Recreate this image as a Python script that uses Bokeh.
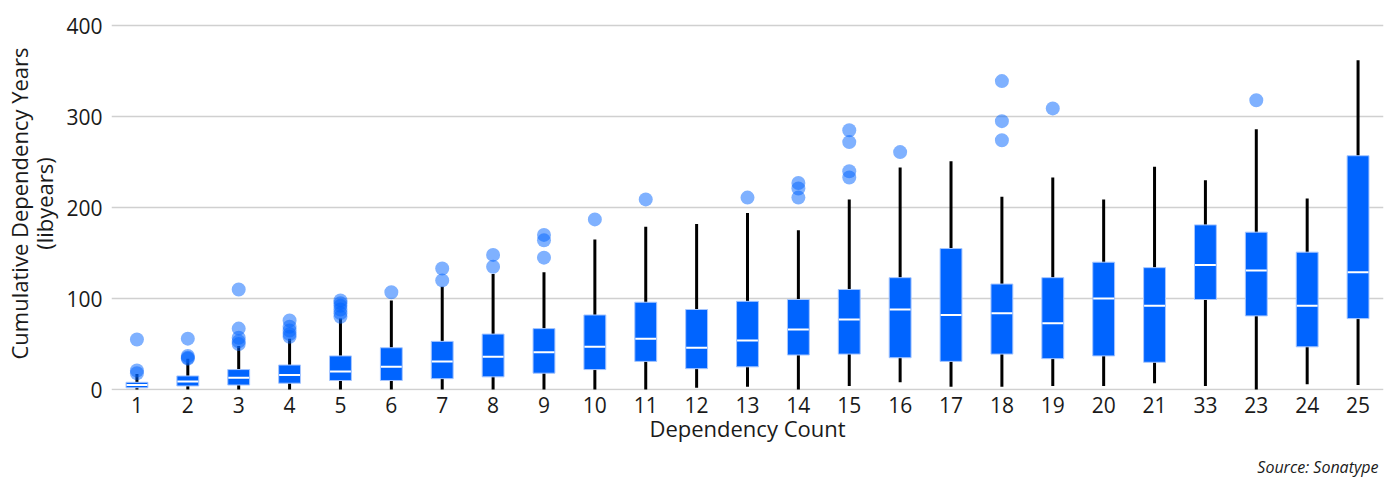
from bokeh.plotting import figure
from bokeh.models import Range1d, FactorRange, FixedTicker, Title, ColumnDataSource
from bokeh.transform import dodge
from bokeh.embed import file_html
from bokeh.resources import INLINE

# ---- data ----
categories = ["1", "2", "3", "4", "5", "6", "7", "8", "9", "10", "11", "12", "13",
              "14", "15", "16", "17", "18", "19", "20", "21", "33", "23", "24", "25"]
whisker_low = [0, 0, 0, 0, 0, 0, 0, 0, 0, 0, 0, 2, 3, 0, 4, 8, 3, 3, 4, 4, 7, 4, 0, 6, 5]
q1 = [2, 4, 5, 7, 10, 10, 12, 14, 18, 22, 31, 23, 25, 38, 39, 35, 31, 39, 34, 37, 30, 99, 81, 47, 78]
median = [5, 9, 13, 16, 20, 25, 31, 36, 41, 47, 56, 46, 54, 66, 77, 88, 82, 84, 73, 100, 92, 137, 131, 92, 129]
q3 = [8, 15, 22, 27, 37, 46, 53, 61, 67, 82, 96, 88, 97, 99, 110, 123, 155, 116, 123, 140, 134, 181, 173, 151, 257]
whisker_high = [17, 34, 48, 56, 78, 98, 113, 127, 129, 165, 179, 182, 194, 175, 209, 244, 251, 212, 233, 209, 245, 230, 286, 210, 362]

outlier_category = ["1", "1", "1",
                    "2", "2", "2", "2",
                    "3", "3", "3", "3", "3",
                    "4", "4", "4", "4", "4",
                    "5", "5", "5", "5", "5", "5",
                    "6", "7", "7", "8", "8", "9", "9", "9",
                    "10", "11", "13", "14", "14", "14",
                    "15", "15", "15", "15", "16",
                    "18", "18", "18", "19", "23"]
outlier_value = [55, 21, 18,
                 56, 37, 35, 34,
                 110, 67, 57, 53, 50,
                 76, 69, 65, 61, 58,
                 98, 95, 92, 88, 84, 80,
                 107, 133, 120, 148, 135, 170, 164, 145,
                 187, 209, 211, 227, 221, 211,
                 285, 272, 240, 233, 261,
                 339, 295, 274, 309, 318]

y_ticks = [0, 100, 200, 300, 400]

# ---- build ----
box_src = ColumnDataSource(dict(cat=categories, lo=whisker_low, q1=q1, med=median,
                                q3=q3, hi=whisker_high))
out_src = ColumnDataSource(dict(cat=outlier_category, y=outlier_value))

FONT = "Open Sans"
TXT = "#1a1a1a"

p = figure(width=1386, height=486, output_backend="svg", toolbar_location=None,
           x_range=FactorRange(factors=categories, range_padding=0),
           y_range=Range1d(-1, 410),
           min_border_top=16, min_border_right=3, min_border_left=107, min_border_bottom=96)

p.outline_line_color = None
p.background_fill_color = "white"
p.xgrid.grid_line_color = None
p.ygrid.grid_line_color = "#d0d0d0"
p.ygrid.grid_line_width = 1.5
p.ygrid.ticker = FixedTicker(ticks=y_ticks)
p.yaxis.ticker = FixedTicker(ticks=y_ticks)

for ax in (p.xaxis[0], p.yaxis[0]):
    ax.axis_line_color = None
    ax.major_tick_line_color = None
    ax.minor_tick_line_color = None
    ax.major_label_text_font = FONT
    ax.major_label_text_font_size = "21px"
    ax.major_label_text_color = TXT
    ax.axis_label_text_font = FONT
    ax.axis_label_text_font_size = "22px"
    ax.axis_label_text_font_style = "normal"
    ax.axis_label_text_color = TXT

p.xaxis.axis_label = "Dependency Count"
p.xaxis.major_label_standoff = 0
p.xaxis.axis_label_standoff = -3
p.yaxis.axis_label = "Cumulative Dependency Years\n(libyears)"
p.yaxis.axis_label_text_line_height = 0.85
p.yaxis.major_label_standoff = 3
p.yaxis.axis_label_standoff = 4

BOX_W = 0.43
# whiskers
p.segment(x0="cat", y0="lo", x1="cat", y1="hi", source=box_src, line_color="black", line_width=3)
# boxes
p.vbar(x="cat", width=BOX_W, bottom="q1", top="q3", source=box_src,
       fill_color="#0064ff", line_color="#a6c6ff", line_width=1)
# medians
p.segment(x0=dodge("cat", -BOX_W / 2 + 0.01, range=p.x_range), y0="med",
          x1=dodge("cat", BOX_W / 2 - 0.01, range=p.x_range), y1="med",
          source=box_src, line_color="white", line_width=2)
# outliers
p.scatter(x="cat", y="y", source=out_src, size=14, marker="circle",
          fill_color="#0064ff", fill_alpha=0.5, line_color=None)

p.add_layout(Title(text="Source: Sonatype", align="right", text_font=FONT,
                   text_font_size="16px", text_font_style="italic",
                   text_color=TXT, standoff=17, offset=5), "below")

open("out.html", "w").write(file_html(p, INLINE))
